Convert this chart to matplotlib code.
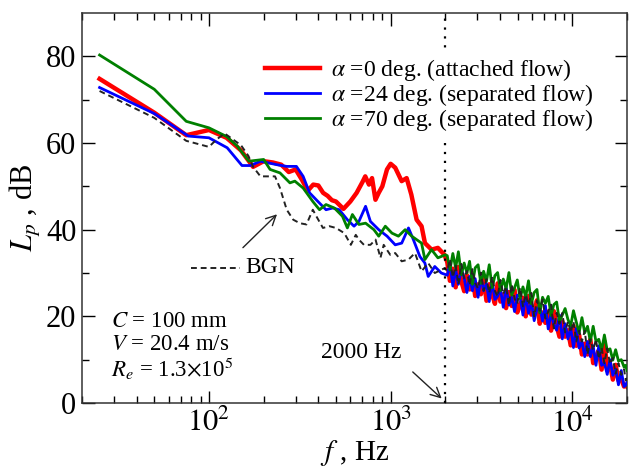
import matplotlib
matplotlib.use("Agg")
import matplotlib.pyplot as plt
from matplotlib.ticker import FixedLocator, LogLocator, NullFormatter

plt.rcParams["font.family"] = ["Liberation Serif", "DejaVu Serif"]
plt.rcParams["mathtext.fontset"] = "stix"

# high-frequency grid shared by all spectra (Hz)
hf = [2050, 2120, 2200, 2280, 2360, 2450, 2540, 2630, 2720, 2820, 2920, 3030,
      3140, 3250, 3370, 3490, 3620, 3750, 3880, 4020, 4170, 4320, 4480, 4640,
      4810, 4980, 5160, 5350, 5540, 5740, 5950, 6170, 6390, 6620, 6860, 7110,
      7370, 7640, 7910, 8200, 8500, 8810, 9130, 9460, 9800, 10150, 10520,
      10900, 11300, 11710, 12130, 12570, 13030, 13500, 13990, 14500, 15020,
      15570, 16130, 16720, 17320, 17950, 18600, 19270, 19700, 20000]

# alpha = 0 deg (attached flow)
f_red = [25, 50, 75, 100, 125, 150, 175, 200, 225, 250, 275, 300, 325, 350,
         375, 400, 425, 450, 475, 500, 550, 600, 650, 700, 725, 760, 790, 825,
         860, 900, 955, 1000, 1060, 1150, 1225, 1300, 1390, 1480, 1545, 1680,
         1820, 1980] + hf
lp_red = [74.8, 67.0, 61.8, 63.0, 61.2, 58.3, 54.5, 55.8, 55.5, 55.0, 53.3,
          53.9, 51.5, 49.0, 50.4, 50.2, 48.5, 47.8, 46.8, 46.5, 44.8, 46.5,
          48.5, 51.0, 52.3, 50.4, 51.9, 46.9, 48.5, 50.0, 53.9, 55.2, 54.3,
          51.2, 51.9, 48.1, 42.3, 40.8, 36.9, 35.4, 35.8, 34.2,
          32.5, 28.2, 31.0, 26.7, 31.4, 28.1, 25.8, 29.5, 26.2, 29.9, 24.7,
          27.4, 25.1, 28.9, 23.6, 27.4, 25.1, 22.9, 27.6, 23.4, 25.1, 21.9,
          25.6, 22.4, 26.1, 20.9, 22.6, 24.3, 20.0, 24.7, 20.4, 21.0, 23.7,
          18.3, 20.9, 18.5, 21.1, 16.7, 21.2, 17.8, 15.3, 18.8, 15.3, 16.8,
          13.3, 17.8, 13.2, 15.7, 11.2, 13.7, 11.2, 14.7, 9.2, 10.7, 12.2,
          7.7, 14.2, 7.6, 9.0, 5.4, 8.8, 5.2, 5.5, 3.8, 4.2, 3.8]

# alpha = 24 deg (separated flow)
f_blue = [25, 50, 77, 100, 126, 152, 169, 192, 236, 268, 303, 330, 358, 398,
          441, 480, 521, 578, 629, 669, 728, 774, 860, 956, 1060, 1151, 1254,
          1334, 1449, 1544, 1610, 1750, 1900] + hf
lp_blue = [72.8, 66.8, 61.6, 61.2, 58.9, 54.8, 54.8, 55.8, 55.0, 54.6, 54.6,
           52.3, 48.5, 46.5, 44.6, 45.0, 44.6, 42.3, 40.8, 41.9, 45.4, 41.9,
           40.0, 38.5, 36.5, 36.9, 40.4, 37.7, 33.8, 32.3, 29.2, 31.5, 30.0,
           29.5, 32.2, 27.0, 30.7, 27.4, 31.1, 28.8, 25.5, 29.2, 25.9, 28.7,
           24.4, 29.1, 25.9, 27.6, 23.4, 28.1, 23.9, 24.6, 26.4, 22.1, 26.9,
           22.6, 24.4, 21.1, 24.9, 24.6, 20.3, 25.0, 20.7, 23.4, 19.0, 21.7,
           22.3, 18.9, 22.5, 17.1, 20.7, 18.2, 16.8, 20.3, 14.8, 18.3, 14.8,
           17.3, 12.8, 17.2, 12.7, 14.2, 10.7, 14.2, 10.7, 13.2, 8.7, 13.2,
           8.7, 9.2, 6.6, 10.0, 6.4, 7.8, 4.2, 7.5, 3.8, 4.2, 4.8]

# alpha = 70 deg (separated flow)
f_green = [25, 50, 75, 100, 125, 143, 166, 200, 217, 246, 279, 297, 330, 373,
           406, 441, 490, 543, 578, 616, 669, 728, 809, 860, 935, 1017, 1104,
           1202, 1306, 1480, 1544, 1679, 1821, 2000] + hf
lp_green = [80.3, 72.4, 65.0, 63.5, 61.5, 59.3, 55.8, 56.2, 53.9, 53.1, 50.8,
            51.2, 49.6, 46.5, 44.6, 45.8, 45.0, 43.1, 40.4, 43.5, 41.2, 41.5,
            40.0, 38.5, 40.8, 39.2, 38.5, 40.0, 38.5, 36.9, 33.1, 35.4, 33.5,
            34.2,
            34.0, 30.7, 34.5, 31.2, 34.9, 29.6, 32.3, 30.0, 32.7, 27.4, 31.2,
            31.9, 27.6, 30.4, 28.1, 31.9, 26.6, 29.4, 30.1, 25.9, 28.6, 26.4,
            30.1, 24.9, 26.6, 28.4, 24.1, 26.8, 24.5, 28.2, 22.9, 25.5, 26.2,
            20.8, 24.4, 23.0, 24.6, 20.2, 22.7, 23.3, 18.8, 20.3, 21.8, 19.3,
            17.8, 21.3, 18.7, 16.2, 19.7, 16.2, 17.7, 14.2, 17.7, 14.2, 14.7,
            12.2, 15.7, 12.1, 12.5, 9.9, 12.3, 9.7, 10.0, 8.3, 8.7, 7.5]

# background noise
f_bgn = [25, 50, 75, 100, 110, 122, 150, 165, 175, 192, 217, 231, 246, 268,
         291, 316, 344, 373, 390, 424, 460, 500, 556, 604, 643, 669, 713, 774,
         826, 879, 916, 995, 1060, 1151, 1254, 1362, 1480, 1610, 1750,
         1981] + hf
lp_bgn = [72.0, 65.8, 60.5, 59.1, 60.8, 62.2, 59.5, 57.0, 54.5, 52.3, 52.3,
          52.3, 49.6, 44.6, 42.3, 41.5, 41.2, 44.6, 43.1, 40.4, 40.8, 40.4,
          39.2, 36.5, 38.8, 37.7, 36.5, 36.5, 37.7, 33.5, 36.5, 34.2, 34.6,
          32.7, 33.1, 34.6, 30.4, 32.3, 30.0, 31.1,
          30.5, 33.2, 29.0, 31.7, 27.4, 32.1, 28.8, 30.5, 27.2, 30.9, 27.7,
          26.4, 30.1, 25.9, 28.6, 25.4, 29.1, 25.9, 24.6, 28.4, 25.1, 26.9,
          22.6, 27.4, 24.1, 22.9, 26.6, 22.3, 25.0, 22.7, 25.4, 20.0, 23.7,
          21.3, 23.9, 19.5, 21.1, 22.7, 17.2, 20.8, 18.3, 20.8, 16.3, 18.8,
          16.3, 18.8, 14.2, 16.7, 14.2, 16.7, 11.2, 14.7, 12.2, 14.7, 10.2,
          12.7, 9.2, 12.6, 9.0, 10.4, 6.8, 9.2, 6.5, 7.8, 5.2, 5.8]

labels = [r"$\alpha$ =0 deg. (attached flow)",
          r"$\alpha$ =24 deg. (separated flow)",
          r"$\alpha$ =70 deg. (separated flow)"]

fig = plt.figure(figsize=(6.33, 4.69), dpi=100)
ax = fig.add_axes([0.1295, 0.1407, 0.861, 0.8316])

ax.plot(f_red, lp_red, color="#ff0000", lw=3.2, label=labels[0], zorder=2)
ax.plot(f_blue, lp_blue, color="#0000ff", lw=2.0, label=labels[1], zorder=3)
ax.plot(f_green, lp_green, color="#008000", lw=2.0, label=labels[2], zorder=4)
ax.plot(f_bgn, lp_bgn, color="#222222", lw=1.4, ls=(0, (3, 2)), zorder=5)
ax.axvline(2000, color="black", lw=1.6, ls=(0, (1, 3)), zorder=6)

ax.set_xscale("log")
ax.set_xlim(20, 20000)
ax.set_ylim(0, 90)
ax.xaxis.set_major_locator(FixedLocator([100, 1000, 10000]))
ax.xaxis.set_minor_locator(LogLocator(base=10, subs=range(2, 10)))
ax.xaxis.set_minor_formatter(NullFormatter())
ax.set_xticklabels([r"$10^2$", r"$10^3$", r"$10^4$"])
ax.set_yticks([0, 20, 40, 60, 80])
ax.set_yticks([10, 30, 50, 70], minor=True)
ax.tick_params(which="both", direction="in", top=True, right=True,
               labelsize=22, width=1.0, pad=4)
ax.tick_params(which="major", length=9)
ax.tick_params(which="minor", length=5)
for sp in ax.spines.values():
    sp.set_linewidth(1.1)
    sp.set_color("#333333")

ax.set_xlabel(r"$f$ , Hz", fontsize=21, labelpad=-1)
ax.set_ylabel(r"$L_p$ , dB", fontsize=22, labelpad=2)

leg = ax.legend(loc="upper left", bbox_to_anchor=(0.33, 0.895), frameon=True,
                fontsize=17, handlelength=2.3, handletextpad=0.5,
                labelspacing=-0.05, borderpad=0.15, borderaxespad=0,
                fancybox=False, edgecolor="none", facecolor="white",
                framealpha=1.0)
leg.set_zorder(10)

# BGN key and arrow
ax.plot([80, 148], [31.2, 31.2], color="#222222", lw=1.4, ls=(0, (3, 2)))
ax.text(158, 31.2, "BGN", fontsize=17, va="center", ha="left")
ax.annotate("", xy=(243, 44.0), xytext=(150, 35.4),
            arrowprops=dict(arrowstyle="->,head_length=0.7,head_width=0.35",
                            color="#222222", lw=1.0))

# 2000 Hz marker
ax.text(690, 11.6, "2000 Hz", fontsize=17, ha="center", va="center")
ax.annotate("", xy=(1960, 0.6), xytext=(1290, 7.6),
            arrowprops=dict(arrowstyle="->,head_length=0.7,head_width=0.35",
                            color="#222222", lw=1.0))

# conditions
ax.text(29, 18.7, r"$C$ = 100 mm", fontsize=16.5, va="center")
ax.text(29, 13.4, r"$V$ = 20.4 m/s", fontsize=16.5, va="center")
ax.text(29, 8.0, r"$R_e$ = 1.3$\times$10$^5$", fontsize=16.5, va="center")

fig.savefig("out.png", dpi=100)
